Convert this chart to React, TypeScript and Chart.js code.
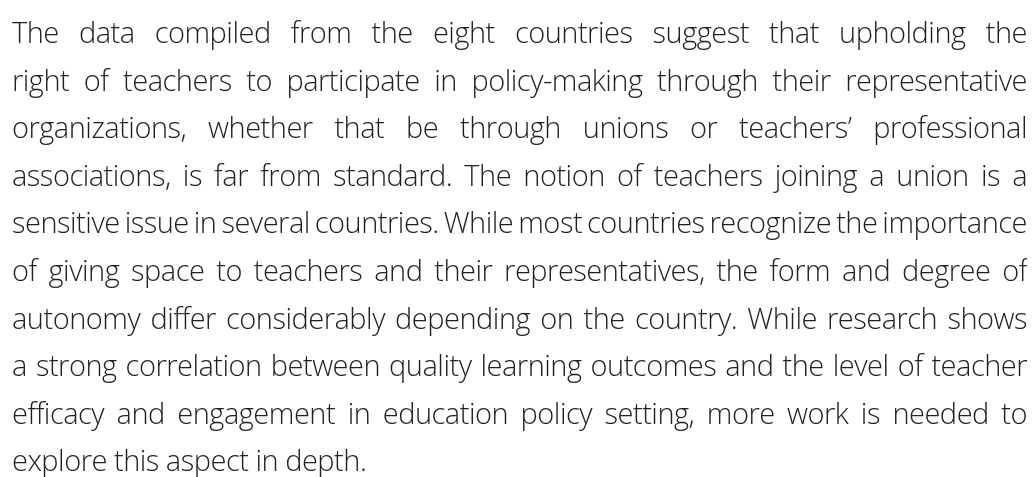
import React, { useEffect, useRef } from "react";
import { Chart, registerables } from "chart.js";

Chart.register(...registerables);

const paragraphLines: string[] = [
  "The data compiled from the eight countries suggest that upholding the",
  "right of teachers to participate in policy-making through their representative",
  "organizations, whether that be through unions or teachers\u2019 professional",
  "associations, is far from standard. The notion of teachers joining a union is a",
  "sensitive issue in several countries. While most countries recognize the importance",
  "of giving space to teachers and their representatives, the form and degree of",
  "autonomy differ considerably depending on the country. While research shows",
  "a strong correlation between quality learning outcomes and the level of teacher",
  "efficacy and engagement in education policy setting, more work is needed to",
  "explore this aspect in depth.",
];

const categories: string[] = [];
const seriesValues: number[] = [];

export default function App() {
  const canvasRef = useRef<HTMLCanvasElement | null>(null);

  useEffect(() => {
    if (!canvasRef.current) return;
    const chart = new Chart(canvasRef.current, {
      type: "bar",
      data: {
        labels: categories,
        datasets: [{ data: seriesValues, backgroundColor: "rgba(0,0,0,0)" }],
      },
      options: {
        animation: false,
        responsive: false,
        events: [],
        plugins: { legend: { display: false }, title: { display: false }, tooltip: { enabled: false } },
        scales: { x: { display: false }, y: { display: false } },
      },
    });
    return () => chart.destroy();
  }, []);

  return (
    <div style={{ position: "relative", width: 1019, height: 469, overflow: "visible" }}>
      <canvas
        ref={canvasRef}
        width={1019}
        height={461}
        style={{ position: "absolute", left: 0, top: 0, pointerEvents: "none" }}
      />
      <div
        style={{
          position: "absolute",
          left: 4,
          top: 0,
          width: 1015,
          fontFamily: "'Open Sans', sans-serif",
          fontWeight: 300,
          fontSize: 29,
          letterSpacing: "-0.5px",
          lineHeight: "47.6px",
          color: "#231f20",
        }}
      >
        {paragraphLines.map((line, i) => {
          const last = i === paragraphLines.length - 1;
          return (
            <div
              key={i}
              style={{
                whiteSpace: "nowrap",
                textAlign: last ? "left" : "justify",
                textAlignLast: last ? "left" : "justify",
                wordSpacing: i === 4 ? "-6px" : "0px",
              }}
            >
              {line}
            </div>
          );
        })}
      </div>
    </div>
  );
}
